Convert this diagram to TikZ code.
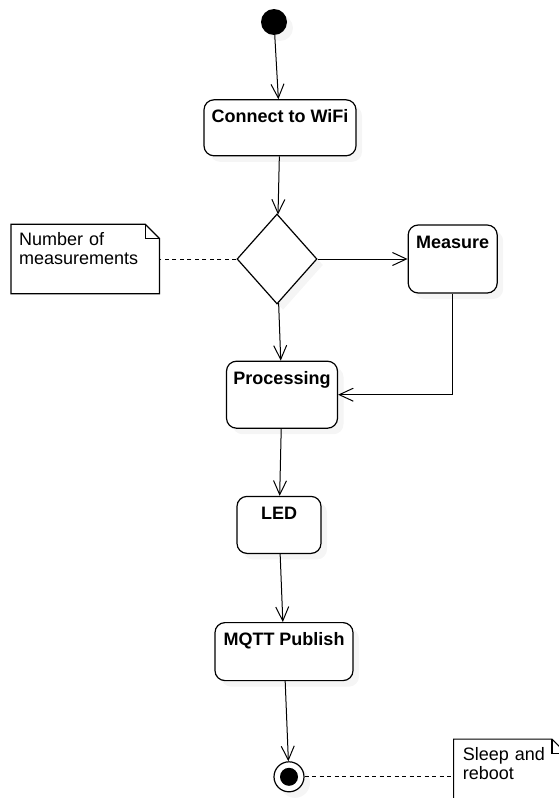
\documentclass[tikz,border=0pt]{standalone}
\usepackage{fontspec}
\setmainfont{Liberation Sans}
\usetikzlibrary{arrows.meta,calc,positioning,shapes.geometric,shadows}
\definecolor{shadowgray}{rgb}{0.92,0.92,0.92}
\tikzset{
  sombra/.style={
    drop shadow={shadow xshift=6pt,shadow yshift=-6pt,fill=shadowgray}
  },
  action/.style={
    draw,
    line width=1.2pt,
    rounded corners=10pt,
    fill=white,
    sombra,
    font=\fontsize{18}{20}\selectfont\bfseries,
    inner xsep=4pt,
    inner ysep=5pt,
    text height=18pt,
    text depth=#1
  },
  action/.default=28pt,
  decision/.style={
    diamond,
    draw,
    line width=1.2pt,
    fill=white,
    sombra,
    minimum width=80pt,
    minimum height=90pt,
    inner sep=0pt
  },
  note/.style={
    align=left,
    font=\fontsize{18}{19}\selectfont,
    inner xsep=8pt,
    inner ysep=6pt,
    text height=15pt
  },
  notebox/.style={
    line width=1.2pt,
    line join=miter
  },
  arrow/.style={
    -{Straight Barb[length=14pt,width=13pt]},
    line width=1pt
  },
  link/.style={
    line width=1pt,
    dash pattern=on 4pt off 3.5pt
  }
}

\begin{document}
\begin{tikzpicture}
\useasboundingbox (0,0) rectangle (558pt,-798pt);
\node[circle,fill=black,sombra,minimum size=26pt,inner sep=0pt] (inicio) at (274pt,-22pt) {};
\node[action,below=64pt of inicio,xshift=6pt,minimum width=152pt] (wifi) {Connect to WiFi};
\node[decision,below=57pt of wifi,xshift=-3pt] (cuantas) {};
\node[action=40pt,right=90pt of cuantas,minimum width=89pt] (medir) {Measure};
\node[note,left=77pt of cuantas,text width=132pt,text depth=42pt] (nota1) {Number of\\measurements};
\node[action=39pt,below=56pt of cuantas,xshift=5pt,minimum width=111pt] (proc) {Processing};
\node[action=29pt,below=67pt of proc,xshift=-3pt,minimum width=84pt] (led) {LED};
\node[action=30pt,below=68pt of led,xshift=5pt,minimum width=138pt] (mqtt) {MQTT Publish};
\node[circle,draw,line width=1.2pt,fill=white,sombra,minimum size=30pt,inner sep=0pt,
  below=80pt of mqtt,xshift=5pt] (fin) {};
\fill (fin.center) circle (9pt);
\node[note,right=149pt of fin,text width=94pt,inner xsep=9pt,text depth=48pt] (nota2) {Sleep and\\reboot};
% notas
\foreach \n in {nota1,nota2}{
  \draw[notebox] (\n.north west) -- ([xshift=-14pt]\n.north east)
    -- ([yshift=-14pt]\n.north east) -- (\n.south east) -- (\n.south west) -- cycle;
  \draw[notebox] ([xshift=-14pt]\n.north east) |- ([yshift=-14pt]\n.north east);
}
% flujo
\draw[arrow] (inicio) -- (wifi);
\draw[arrow] (wifi) -- (cuantas);
\draw[arrow] (cuantas) -- (medir);
\draw[arrow] (cuantas) -- (proc);
\draw[arrow] (medir) |- (proc);
\draw[arrow] (proc) -- (led);
\draw[arrow] (led) -- (mqtt);
\draw[arrow] (mqtt) -- (fin);
\draw[link] (cuantas) -- (nota1);
\draw[link] (fin) -- (nota2);
\end{tikzpicture}
\end{document}
